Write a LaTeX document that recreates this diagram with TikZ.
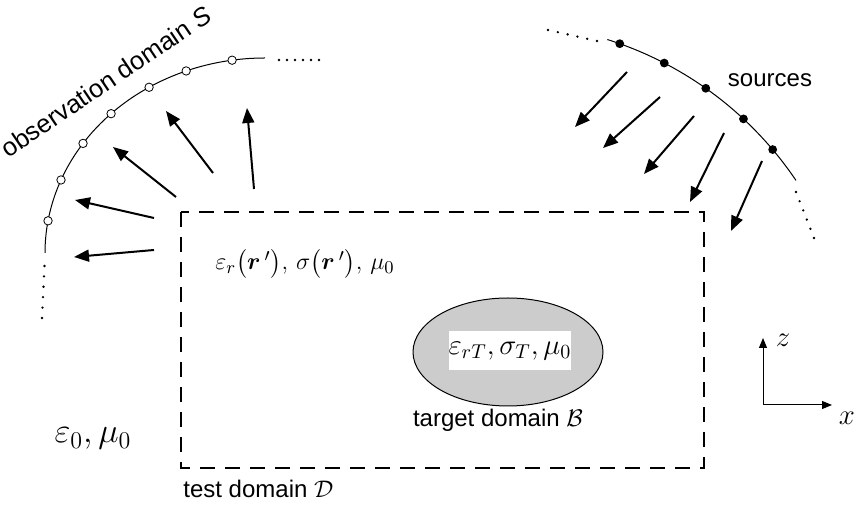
\documentclass[tikz,border=0pt]{standalone}
\usepackage{amsmath}
\usepackage[no-math]{fontspec}
\setmainfont{Liberation Sans}
\usetikzlibrary{arrows.meta,shapes.geometric}
\begin{document}
\begin{tikzpicture}[x=0.5pt,y=-0.5pt,
  arr/.style={line width=1pt,-{Triangle[length=7.5pt,width=6pt]}},
  axisarr/.style={line width=0.5pt,-{Triangle[length=5pt,width=4pt]}},
  arcline/.style={line width=0.5pt},
  obs/.style={circle,draw,line width=0.4pt,inner sep=0pt,minimum size=4.2pt,fill=white},
  src/.style={circle,fill=black,inner sep=0pt,minimum size=4.4pt},
  dotmark/.style={circle,fill=black,inner sep=0pt,minimum size=1.3pt},
  lab/.style={font=\fontsize{12}{14}\selectfont,inner sep=0pt},
  testbox/.style={line width=1.4pt,dash pattern=on 7.5pt off 5pt},
  targetshape/.style={ellipse,draw,line width=0.5pt,fill=black!20,minimum width=95pt,minimum height=54pt,inner sep=0pt},
]
\useasboundingbox (0,0) rectangle (857,506);

% test domain
\coordinate (tl) at (181,212);
\coordinate (br) at (704,468);
\draw[testbox] (tl) rectangle (br);
\node[lab,anchor=base west] (testlab) at (183,498) {test domain $\mathcal{D}$};

% target domain
\node[targetshape] (targ) at (508,352) {};
\node[fill=white,minimum width=59.5pt,minimum height=19.5pt,inner sep=0pt,font=\fontsize{14}{17}\selectfont] (targtxt) at (510,351) {$\varepsilon_{rT},\sigma_T,\mu_0$};
\node[lab,anchor=base] (targlab) at (498,427) {target domain $\mathcal{B}$};

% material labels
\node[inner sep=0pt,anchor=base,font=\fontsize{12.2}{15}\selectfont] (inlab) at (305,270) {$\varepsilon_r\bigl(\boldsymbol{r}\,'\bigr),\,\sigma\bigl(\boldsymbol{r}\,'\bigr),\,\mu_0$};
\node[inner sep=0pt,anchor=base,font=\fontsize{17.5}{21}\selectfont] (outlab) at (93,443) {$\varepsilon_0,\mu_0$};

% observation domain
\draw[arcline] plot[domain=90:180,samples=90] ({265+220*cos(\x)},{253-195*sin(\x)});
\foreach \a in {98.6,111,121.8,134.4,145.8,158,170.5}
  \node[obs] at ({265+220*cos(\a)},{253-195*sin(\a)}) {};
\foreach \i in {0,...,5} \node[dotmark] at ({279+8*\i},60) {};
\foreach \i in {0,...,5} \node[dotmark] at ({44.5-0.5*\i},{266+10.4*\i}) {};
\node[font=\fontsize{12.8}{15}\selectfont,inner sep=0pt,rotate=34,anchor=base west] (obslab) at (8,159) {observation domain \textit{S}};

% sources
\draw[arcline] plot[domain=34:72.5,samples=60] ({500+357*cos(\x)},{380-357*sin(\x)});
\foreach \a in {70.4,62.6,54.8,47.0,40.2}
  \node[src] at ({500+357*cos(\a)},{380-357*sin(\a)}) {};
\foreach \i in {0,...,5} \node[dotmark] at ({548+9.8*\i},{30+2.2*\i}) {};
\foreach \i in {0,...,5} \node[dotmark] at ({796+3.6*\i},{192+9.2*\i}) {};
\node[lab,anchor=base] (srclab) at (770,87) {sources};

% scattered field arrows
\coordinate (l1s) at (154,218); \coordinate (l1e) at (75,200);
\coordinate (l2s) at (154,250); \coordinate (l2e) at (74,257);
\coordinate (l3s) at (176,197); \coordinate (l3e) at (113,147);
\coordinate (l4s) at (213,173); \coordinate (l4e) at (166,111);
\coordinate (l5s) at (254,189); \coordinate (l5e) at (247,108);
\foreach \k in {1,...,5} \draw[arr] (l\k s) -- (l\k e);

% incident field arrows
\coordinate (r1s) at (627,72);  \coordinate (r1e) at (575,127);
\coordinate (r2s) at (660,97);  \coordinate (r2e) at (603,148);
\coordinate (r3s) at (694,116); \coordinate (r3e) at (644,174);
\coordinate (r4s) at (724,133); \coordinate (r4e) at (690,202);
\coordinate (r5s) at (762,161); \coordinate (r5e) at (731,231);
\foreach \k in {1,...,5} \draw[arr] (r\k s) -- (r\k e);

% axes
\coordinate (o) at (763,405);
\coordinate (zt) at (763,338);
\coordinate (xt) at (832,405);
\draw[axisarr] (o) -- (zt);
\draw[axisarr] (o) -- (xt);
\node[inner sep=0pt,font=\fontsize{14}{16}\selectfont] (zlab) at (783,340) {$z$};
\node[inner sep=0pt,font=\fontsize{14}{16}\selectfont] (xlab) at (847,418) {$x$};
\end{tikzpicture}
\end{document}
